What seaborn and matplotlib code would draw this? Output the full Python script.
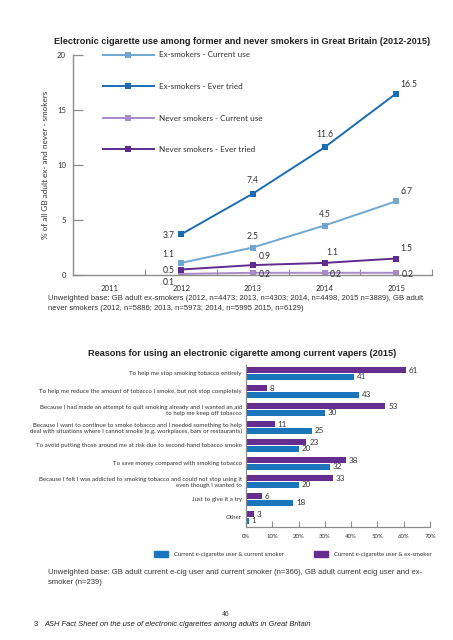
import numpy as np
import pandas as pd
import matplotlib
matplotlib.use('Agg')
import matplotlib.pyplot as plt
import seaborn as sns
from matplotlib.lines import Line2D
from matplotlib.patches import Patch

# ---- top chart data ----
years = [2012, 2013, 2014, 2015]
series_names = ['Ex-smokers - Current use', 'Ex-smokers - Ever tried',
                'Never smokers - Current use', 'Never smokers - Ever tried']
ex_current = [1.1, 2.5, 4.5, 6.7]
ex_ever = [3.7, 7.4, 11.6, 16.5]
never_current = [0.1, 0.2, 0.2, 0.2]
never_ever = [0.5, 0.9, 1.1, 1.5]
year_ticks = [2011, 2012, 2013, 2014, 2015]
line_colors = ['#6fa7d1', '#1b6db3', '#a98ac8', '#5e2b8e']

# ---- bottom chart data ----
reasons = [
    'To help me stop smoking tobacco entirely',
    'To help me reduce the amount of tobacco I smoke, but not stop completely',
    'Because I had made an attempt to quit smoking already and I wanted an aid\nto help me keep off tobacco',
    'Because I want to continue to smoke tobacco and I needed something to help\ndeal with situations where I cannot smoke (e.g. workplaces, bars or restaurants)',
    'To avoid putting those around me at risk due to second-hand tobacco smoke',
    'To save money compared with smoking tobacco',
    'Because I felt I was addicted to smoking tobacco and could not stop using it\neven though I wanted to',
    'Just to give it a try',
    'Other',
]
ex_smoker_pct = [61, 8, 53, 11, 23, 38, 33, 6, 3]
current_smoker_pct = [41, 43, 30, 25, 20, 32, 20, 18, 1]
groups = ['Current e-cigarette user & current smoker', 'Current e-cigarette user & ex-smoker']
bar_colors = {'Current e-cigarette user & current smoker': '#1b75bc',
              'Current e-cigarette user & ex-smoker': '#662d91'}
pct_ticks = [0, 10, 20, 30, 40, 50, 60, 70]

plt.rcParams['font.family'] = ['Liberation Sans', 'DejaVu Sans']
CHART_FONT = 'Lato'
GREY = '#8c8c8c'
TXT = '#333333'

fig = plt.figure(figsize=(4.53, 6.40), dpi=100)
fig.patch.set_facecolor('white')

# ================= top line chart =================
ax1 = fig.add_axes([73 / 453, 1 - 275 / 640, (432 - 73) / 453, 220 / 640])
top = pd.DataFrame({
    'year': years * 4,
    'pct': ex_current + ex_ever + never_current + never_ever,
    'series': np.repeat(series_names, len(years)),
})
sns.lineplot(data=top, x='year', y='pct', hue='series', hue_order=series_names,
             palette=line_colors, marker='s', markersize=4.5, markeredgewidth=0,
             linewidth=1.4, legend=False, ax=ax1)

ax1.set_xlim(2010.49, 2015.5)
ax1.set_ylim(0, 20)
ax1.set_yticks([0, 5, 10, 15, 20])
ax1.tick_params(axis='y', direction='in', length=7, width=0.9, color=GREY,
                labelsize=5.6, pad=5, labelcolor=TXT)
ax1.set_xticks(year_ticks)
ax1.set_xticks([y + 0.5 for y in year_ticks], minor=True)
ax1.tick_params(axis='x', which='major', length=0, labelsize=5.6, pad=7, labelcolor=TXT)
ax1.tick_params(axis='x', which='minor', direction='in', length=4, width=0.8, color=GREY)
for lab in ax1.get_xticklabels() + ax1.get_yticklabels():
    lab.set_fontfamily(CHART_FONT)
ax1.set_xlabel('')
ax1.set_ylabel('% of all GB adult ex- and never - smokers', fontsize=5.9,
               fontfamily=CHART_FONT, color=TXT, labelpad=6)
for s in ['top', 'right']:
    ax1.spines[s].set_visible(False)
for s in ['left', 'bottom']:
    ax1.spines[s].set_color(GREY)
    ax1.spines[s].set_linewidth(1.0)

# data labels: (offset in points, alignment) per series and year
label_specs = {
    0: [((-5, 3), 'right'), ((0, 5), 'center'), ((0, 5), 'center'), ((3, 4), 'left')],
    1: [((-5, -1), 'right'), ((0, 6), 'center'), ((0, 6), 'center'), ((3, 3), 'left')],
    2: [((-5, -6), 'right'), ((4, -1), 'left'), ((4, -1), 'left'), ((4, -1), 'left')],
    3: [((-5, -1), 'right'), ((4, 3), 'left'), ((1, 4), 'left'), ((3, 4), 'left')],
}
all_vals = [ex_current, ex_ever, never_current, never_ever]
for i, vals in enumerate(all_vals):
    for j, (yr, v) in enumerate(zip(years, vals)):
        off, ha = label_specs[i][j]
        ax1.annotate(f'{v}', (yr, v), xytext=off, textcoords='offset points',
                     ha=ha, va='bottom' if off[1] > 1 else 'center',
                     fontsize=6.2, fontfamily=CHART_FONT, color=TXT)

handles = [Line2D([], [], color=c, marker='s', ms=4.5, mew=0, lw=1.4) for c in line_colors]
ax1.legend(handles, series_names, loc='upper left', bbox_to_anchor=(0.072, 1.035),
           frameon=False, prop={'family': CHART_FONT, 'size': 5.9},
           labelspacing=3.0, handlelength=6.2, handletextpad=0.7, borderpad=0,
           numpoints=1, labelcolor=TXT)

fig.text(242 / 453, 1 - 41 / 640,
         'Electronic cigarette use among former and never smokers in Great Britain (2012-2015)',
         ha='center', va='center', fontsize=6.55, fontweight='bold', color='#222222')
fig.text(48 / 453, 1 - 295 / 640,
         'Unweighted base: GB adult ex-smokers (2012, n=4473; 2013, n=4303; 2014, n=4498, 2015 n=3889), GB adult\n'
         'never smokers (2012, n=5886; 2013, n=5973; 2014, n=5995 2015, n=6129)',
         ha='left', va='top', fontsize=5.5, color=TXT, linespacing=1.65)

# ================= bottom bar chart =================
ax2 = fig.add_axes([246 / 453, 1 - 527 / 640, (430 - 246) / 453, (527 - 364.5) / 640])
bars = pd.DataFrame({
    'reason': reasons * 2,
    'pct': ex_smoker_pct + current_smoker_pct,
    'group': [groups[1]] * len(reasons) + [groups[0]] * len(reasons),
})
sns.barplot(data=bars, y='reason', x='pct', hue='group', order=reasons,
            hue_order=[groups[1], groups[0]], palette=bar_colors,
            width=0.76, gap=0.05, saturation=1, legend=False, ax=ax2)
for cont in ax2.containers:
    ax2.bar_label(cont, padding=2, fontsize=5.8, fontfamily=CHART_FONT, color=TXT)

ax2.set_xlim(0, 70)
ax2.set_ylim(8.53, -0.5)
ax2.set_xticks(pct_ticks)
ax2.set_xticklabels([f'{t}%' for t in pct_ticks])
ax2.tick_params(axis='x', direction='in', length=4, width=0.8, color=GREY,
                labelsize=4.3, pad=5, labelcolor=TXT)
ax2.tick_params(axis='y', length=0, labelsize=4.4, pad=3, labelcolor=TXT)
for lab in ax2.get_xticklabels() + ax2.get_yticklabels():
    lab.set_fontfamily(CHART_FONT)
ax2.set_xlabel('')
ax2.set_ylabel('')
for s in ['top', 'right']:
    ax2.spines[s].set_visible(False)
for s in ['left', 'bottom']:
    ax2.spines[s].set_color(GREY)
    ax2.spines[s].set_linewidth(0.9)

leg_handles = [Patch(color=bar_colors[g]) for g in groups]
fig.legend(leg_handles, groups, loc='center left', bbox_to_anchor=(151 / 453, 1 - 554 / 640),
           ncol=2, frameon=False, prop={'family': CHART_FONT, 'size': 4.3},
           handlelength=2.3, handleheight=1.3, handletextpad=1.1, columnspacing=5.0,
           borderpad=0, labelcolor=TXT)

fig.text(242 / 453, 1 - 354 / 640,
         'Reasons for using an electronic cigarette among current vapers (2015)',
         ha='center', va='center', fontsize=6.55, fontweight='bold', color='#222222')
fig.text(48 / 453, 1 - 569 / 640,
         'Unweighted base: GB adult current e-cig user and current smoker (n=366), GB adult current ecig user and ex-\n'
         'smoker (n=239)',
         ha='left', va='top', fontsize=5.5, color=TXT, linespacing=1.65)

fig.text(226 / 453, 1 - 615 / 640, '46', ha='center', va='center', fontsize=4.9, color=TXT)
fig.text(34 / 453, 1 - 625 / 640, '3', ha='left', va='center', fontsize=5.4, color='#222222')
fig.text(44 / 453, 1 - 625 / 640,
         'ASH Fact Sheet on the use of electronic cigarettes among adults in Great Britain',
         ha='left', va='center', fontsize=5.4, style='italic', color='#222222')

fig.savefig('out.png', dpi=100, facecolor='white')
